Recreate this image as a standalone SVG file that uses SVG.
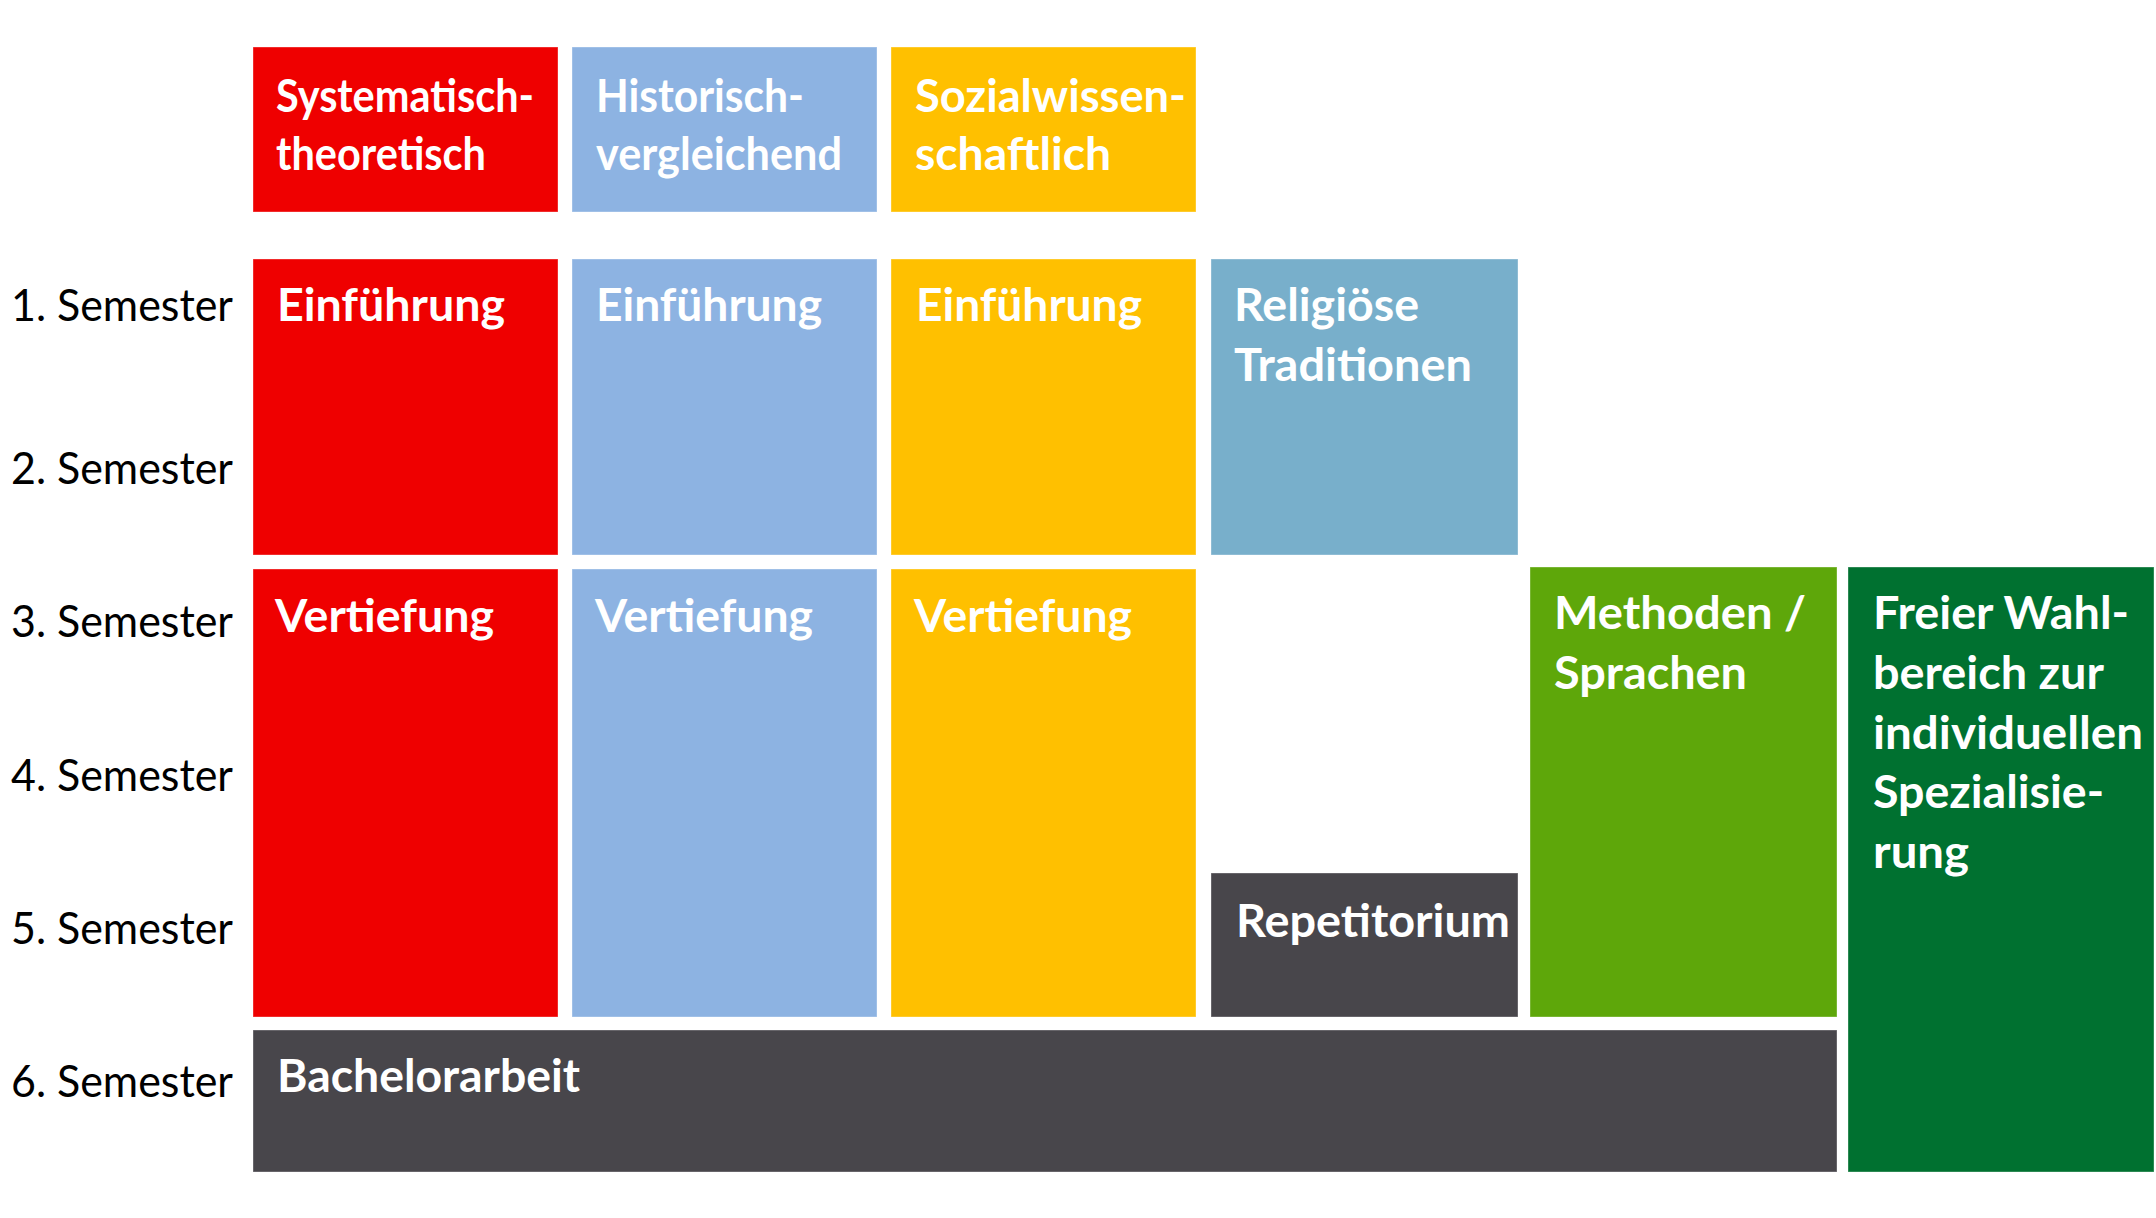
<svg xmlns="http://www.w3.org/2000/svg" width="2156" height="1218" viewBox="0 0 2156 1218">
<style>
  rect.box { stroke: #ffffff; stroke-opacity: 0.35; stroke-width: 1; }
  .red { fill: #EF0000; }
  .blue { fill: #8DB3E2; }
  .yellow { fill: #FFC000; }
  .grayblue { fill: #78AFCB; }
  .green { fill: #5EA70A; }
  .dkgreen { fill: #007130; }
  .dark { fill: #48464B; }
  text.t { font-family: Lato, "Open Sans", "Liberation Sans", sans-serif; font-weight: bold; font-size: 45px; fill: #ffffff; }
  text.sem { font-family: Lato, "Open Sans", "Liberation Sans", sans-serif; font-weight: normal; font-size: 45px; fill: #000000; }
</style>
<rect x="0" y="0" width="2156" height="1218" fill="#ffffff"/>

<g id="semester-labels">
  <text class="sem" x="11" y="321" textLength="222" lengthAdjust="spacingAndGlyphs">1. Semester</text>
  <text class="sem" x="11" y="484" textLength="222" lengthAdjust="spacingAndGlyphs">2. Semester</text>
  <text class="sem" x="11" y="637" textLength="222" lengthAdjust="spacingAndGlyphs">3. Semester</text>
  <text class="sem" x="11" y="791" textLength="222" lengthAdjust="spacingAndGlyphs">4. Semester</text>
  <text class="sem" x="11" y="944" textLength="222" lengthAdjust="spacingAndGlyphs">5. Semester</text>
  <text class="sem" x="11" y="1097" textLength="222" lengthAdjust="spacingAndGlyphs">6. Semester</text>
</g>

<g id="head-systematisch">
  <rect class="box red" x="253" y="47" width="305" height="165"/>
  <text class="t" x="276" y="112" textLength="258" lengthAdjust="spacingAndGlyphs">Systematisch-</text>
  <text class="t" x="276" y="170" textLength="210" lengthAdjust="spacingAndGlyphs">theoretisch</text>
</g>
<g id="head-historisch">
  <rect class="box blue" x="572" y="47" width="305" height="165"/>
  <text class="t" x="596" y="112" textLength="208" lengthAdjust="spacingAndGlyphs">Historisch-</text>
  <text class="t" x="596" y="170" textLength="246" lengthAdjust="spacingAndGlyphs">vergleichend</text>
</g>
<g id="head-sozial">
  <rect class="box yellow" x="891" y="47" width="305" height="165"/>
  <text class="t" x="915" y="112" textLength="271" lengthAdjust="spacingAndGlyphs">Sozialwissen-</text>
  <text class="t" x="915" y="170" textLength="196" lengthAdjust="spacingAndGlyphs">schaftlich</text>
</g>

<g id="einf-sys">
  <rect class="box red" x="253" y="259" width="305" height="296"/>
  <text class="t" x="277" y="321" textLength="228" lengthAdjust="spacingAndGlyphs">Einführung</text>
</g>
<g id="einf-hist">
  <rect class="box blue" x="572" y="259" width="305" height="296"/>
  <text class="t" x="596" y="321" textLength="226" lengthAdjust="spacingAndGlyphs">Einführung</text>
</g>
<g id="einf-soz">
  <rect class="box yellow" x="891" y="259" width="305" height="296"/>
  <text class="t" x="916" y="321" textLength="226" lengthAdjust="spacingAndGlyphs">Einführung</text>
</g>
<g id="religioese-traditionen">
  <rect class="box grayblue" x="1211" y="259" width="307" height="296"/>
  <text class="t" x="1234" y="321" textLength="185" lengthAdjust="spacingAndGlyphs">Religiöse</text>
  <text class="t" x="1234" y="381" textLength="238" lengthAdjust="spacingAndGlyphs">Traditionen</text>
</g>

<g id="vert-sys">
  <rect class="box red" x="253" y="569" width="305" height="448"/>
  <text class="t" x="275" y="632" textLength="219" lengthAdjust="spacingAndGlyphs">Vertiefung</text>
</g>
<g id="vert-hist">
  <rect class="box blue" x="572" y="569" width="305" height="448"/>
  <text class="t" x="595" y="632" textLength="218" lengthAdjust="spacingAndGlyphs">Vertiefung</text>
</g>
<g id="vert-soz">
  <rect class="box yellow" x="891" y="569" width="305" height="448"/>
  <text class="t" x="914" y="632" textLength="218" lengthAdjust="spacingAndGlyphs">Vertiefung</text>
</g>

<g id="repetitorium">
  <rect class="box dark" x="1211" y="873" width="307" height="144"/>
  <text class="t" x="1236" y="937" textLength="274" lengthAdjust="spacingAndGlyphs">Repetitorium</text>
</g>

<g id="methoden-sprachen">
  <rect class="box green" x="1530" y="567" width="307" height="450"/>
  <text class="t" x="1554" y="629" textLength="252" lengthAdjust="spacingAndGlyphs">Methoden /</text>
  <text class="t" x="1554" y="689" textLength="193" lengthAdjust="spacingAndGlyphs">Sprachen</text>
</g>

<g id="freier-wahlbereich">
  <rect class="box dkgreen" x="1848" y="567" width="306" height="605"/>
  <text class="t" x="1873" y="629" textLength="256" lengthAdjust="spacingAndGlyphs">Freier Wahl-</text>
  <text class="t" x="1873" y="689" textLength="231" lengthAdjust="spacingAndGlyphs">bereich zur</text>
  <text class="t" x="1873" y="749" textLength="270" lengthAdjust="spacingAndGlyphs">individuellen</text>
  <text class="t" x="1873" y="808" textLength="231" lengthAdjust="spacingAndGlyphs">Spezialisie-</text>
  <text class="t" x="1873" y="868" textLength="96" lengthAdjust="spacingAndGlyphs">rung</text>
</g>

<g id="bachelorarbeit">
  <rect class="box dark" x="253" y="1030" width="1584" height="142"/>
  <text class="t" x="277" y="1092" textLength="303" lengthAdjust="spacingAndGlyphs">Bachelorarbeit</text>
</g>

<g id="connectors"></g>
</svg>
